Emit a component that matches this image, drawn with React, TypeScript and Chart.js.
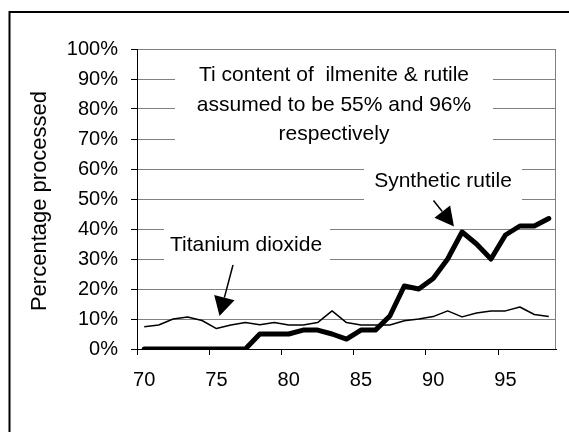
import React, { useEffect, useRef } from "react";
import { Chart, registerables } from "chart.js";

Chart.register(...registerables);

const years = ["70", "71", "72", "73", "74", "75", "76", "77", "78", "79", "80", "81", "82", "83", "84", "85", "86", "87", "88", "89", "90", "91", "92", "93", "94", "95", "96", "97", "98"];
const syntheticRutile = [0, 0, 0, 0, 0, 0, 0, 0, 5, 5, 5, 6.3, 6.3, 5, 3.3, 6.3, 6.3, 11, 21, 20, 23.5, 30, 39, 35, 30, 38, 41, 41, 43.5];
const titaniumDioxide = [7.4, 8, 10, 10.7, 9.5, 6.8, 8, 8.8, 8.1, 8.8, 8, 8, 8.8, 12.7, 8.8, 8, 8, 8, 9.4, 10, 10.8, 12.7, 10.7, 12, 12.7, 12.7, 14, 11.5, 10.8];
const yTickValues = [0, 10, 20, 30, 40, 50, 60, 70, 80, 90, 100];
const noteLines = ["Ti content of  ilmenite & rutile", "assumed to be 55% and 96%", "respectively"];
const yTitle = "Percentage processed";
const labelSynthetic = "Synthetic rutile";
const labelTitanium = "Titanium dioxide";

const FONT = '"Liberation Sans", Arial, Helvetica, sans-serif';
const GRID = "#808080";

function arrow(ctx: CanvasRenderingContext2D, x1: number, y1: number, x2: number, y2: number, headLen: number, headW: number) {
  const ang = Math.atan2(y2 - y1, x2 - x1);
  const bx = x2 - headLen * Math.cos(ang);
  const by = y2 - headLen * Math.sin(ang);
  ctx.beginPath();
  ctx.moveTo(x1, y1);
  ctx.lineTo(bx, by);
  ctx.stroke();
  const nx = -Math.sin(ang) * headW / 2;
  const ny = Math.cos(ang) * headW / 2;
  ctx.beginPath();
  ctx.moveTo(x2, y2);
  ctx.lineTo(bx + nx, by + ny);
  ctx.lineTo(bx - nx, by - ny);
  ctx.closePath();
  ctx.fill();
}

const decor = {
  id: "decor",
  beforeDatasetsDraw(chart: any) {
    const ctx = chart.ctx as CanvasRenderingContext2D;
    const a = chart.chartArea;
    ctx.save();
    ctx.fillStyle = "#ffffff";
    ctx.fillRect(175, 57, 318, 92);
    ctx.fillRect(364, 160, 158, 50);
    ctx.fillRect(164, 220, 166, 48);
    ctx.strokeStyle = GRID;
    ctx.lineWidth = 1;
    ctx.beginPath();
    ctx.moveTo(Math.round(a.right) - 0.5, a.top);
    ctx.lineTo(Math.round(a.right) - 0.5, a.bottom);
    ctx.stroke();
    ctx.restore();
  },
  afterDraw(chart: any) {
    const ctx = chart.ctx as CanvasRenderingContext2D;
    ctx.save();
    ctx.fillStyle = "#000";
    ctx.strokeStyle = "#000";
    ctx.textAlign = "center";
    ctx.textBaseline = "alphabetic";
    ctx.font = `21px ${FONT}`;
    const bases = [81, 110.5, 140];
    noteLines.forEach((t, i) => ctx.fillText(t, 334, bases[i]));
    ctx.fillText(labelSynthetic, 443, 187);
    ctx.fillText(labelTitanium, 246, 251);
    ctx.lineWidth = 1.5;
    arrow(ctx, 233, 265, 219.5, 316, 19, 21);
    arrow(ctx, 433.5, 200.5, 454, 226.5, 19, 20);
    // axis title
    ctx.font = `22px ${FONT}`;
    ctx.translate(46, 201);
    ctx.rotate(-Math.PI / 2);
    ctx.fillText(yTitle, 0, 0);
    ctx.setTransform(1, 0, 0, 1, 0, 0);
    // outer frame
    ctx.lineWidth = 2;
    ctx.beginPath();
    ctx.moveTo(9.5, 440);
    ctx.lineTo(9.5, 12);
    ctx.lineTo(580, 12);
    ctx.stroke();
    ctx.restore();
  },
};

export default function App() {
  const ref = useRef<HTMLCanvasElement | null>(null);
  useEffect(() => {
    if (!ref.current) return;
    const chart = new Chart(ref.current, {
      type: "line",
      data: {
        labels: years,
        datasets: [
          {
            label: labelSynthetic,
            data: syntheticRutile,
            borderColor: "#000",
            borderWidth: 5,
            pointRadius: 0,
            tension: 0,
            borderJoinStyle: "round",
            borderCapStyle: "round",
            fill: false,
          },
          {
            label: labelTitanium,
            data: titaniumDioxide,
            borderColor: "#000",
            borderWidth: 1.5,
            pointRadius: 0,
            tension: 0,
            borderJoinStyle: "round",
            fill: false,
          },
        ],
      },
      options: {
        responsive: false,
        animation: false,
        devicePixelRatio: 1,
        events: [],
        layout: { padding: { left: 0, top: 49, right: 13, bottom: 0 } },
        plugins: { legend: { display: false }, tooltip: { enabled: false }, title: { display: false } },
        scales: {
          x: {
            type: "category",
            offset: true,
            grid: {
              offset: true,
              drawOnChartArea: false,
              drawTicks: true,
              tickLength: 6,
              color: (c: any) => (typeof c.index === "number" && c.index % 5 === 0 ? "#000" : "rgba(0,0,0,0)"),
            },
            border: { display: true, color: "#000", width: 1 },
            ticks: {
              autoSkip: false,
              maxRotation: 0,
              minRotation: 0,
              padding: 13,
              color: "#000",
              font: { family: FONT, size: 20 },
              callback: (_v: any, i: number) => (i % 5 === 0 ? years[i] : ""),
            },
            afterFit: (s: any) => {
              s.height = 83;
            },
          },
          y: {
            min: 0,
            max: 100,
            afterBuildTicks: (s: any) => {
              s.ticks = yTickValues.map((v) => ({ value: v }));
            },
            grid: {
              color: (c: any) => (c.tick && c.tick.value === 0 ? "#000" : GRID),
              tickColor: "#000",
              tickLength: 6,
              lineWidth: 1,
            },
            border: { display: true, color: "#000", width: 1 },
            ticks: {
              padding: 13,
              color: "#000",
              font: { family: FONT, size: 20 },
              callback: (v: any) => `${v}%`,
            },
            afterFit: (s: any) => {
              s.width = 137;
            },
          },
        },
      },
      plugins: [decor],
    });
    return () => chart.destroy();
  }, []);
  return (
    <div style={{ position: "fixed", left: 0, top: 0, width: 569, height: 432, background: "#fff" }}>
      <canvas ref={ref} width={569} height={432} style={{ width: 569, height: 432, display: "block" }} />
    </div>
  );
}
